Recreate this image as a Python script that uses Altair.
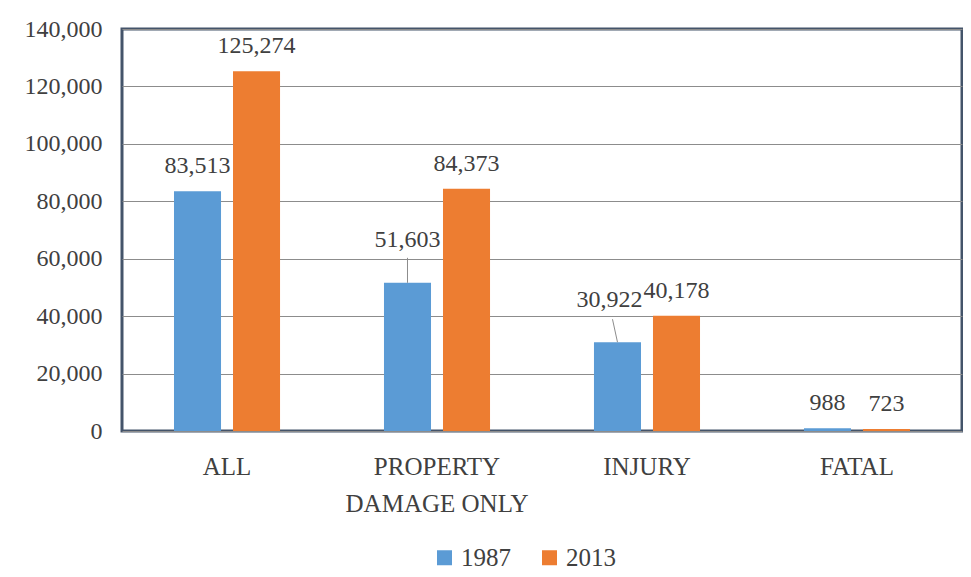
import altair as alt
import pandas as pd

categories = ["ALL", "PROPERTY DAMAGE ONLY", "INJURY", "FATAL"]
years = ["1987", "2013"]
values_1987 = [83513, 51603, 30922, 988]
values_2013 = [125274, 84373, 40178, 723]
y_ticks = [0, 20000, 40000, 60000, 80000, 100000, 120000, 140000]

rows = []
for c, v1, v2 in zip(categories, values_1987, values_2013):
    rows.append({"category": c, "year": years[0], "value": v1})
    rows.append({"category": c, "year": years[1], "value": v2})
df = pd.DataFrame(rows)

FONT = "Liberation Serif"
TEXT = "#404040"
colors = ["#5B9BD5", "#ED7D31"]
LEADER = "#8C8C8C"

x_enc = alt.X(
    "category:N",
    sort=categories,
    scale=alt.Scale(paddingInner=0.495, paddingOuter=0.2476),
    axis=alt.Axis(
        title=None,
        labelExpr="datum.value == 'PROPERTY DAMAGE ONLY' ? ['PROPERTY', 'DAMAGE ONLY'] : datum.label",
        labelFont=FONT,
        labelFontSize=25,
        labelColor=TEXT,
        labelAngle=0,
        labelBaseline="top",
        labelPadding=23,
        labelLineHeight=37,
        labelLimit=400,
        domain=False,
        ticks=False,
    ),
)
xoff_enc = alt.XOffset("year:N", sort=years, scale=alt.Scale(paddingInner=0.203, paddingOuter=0))
y_enc = alt.Y(
    "value:Q",
    scale=alt.Scale(domain=[0, 140000], nice=False),
    axis=alt.Axis(
        values=y_ticks,
        format=",.0f",
        title=None,
        grid=True,
        gridColor="#8C8C8C",
        gridWidth=1,
        domain=False,
        ticks=False,
        labelFont=FONT,
        labelFontSize=24,
        labelColor=TEXT,
        labelPadding=20,
    ),
)

base = alt.Chart(df)

bars = base.mark_bar().encode(
    x=x_enc,
    xOffset=xoff_enc,
    y=y_enc,
    color=alt.Color(
        "year:N",
        sort=years,
        scale=alt.Scale(domain=years, range=colors),
        legend=alt.Legend(
            title=None,
            orient="none",
            legendX=310,
            legendY=516,
            direction="horizontal",
            symbolType="square",
            symbolSize=225,
            symbolStrokeWidth=0,
            labelFont=FONT,
            labelFontSize=25,
            labelColor=TEXT,
            columnPadding=26,
            labelOffset=4,
            padding=0,
        ),
    ),
)

special = "(datum.category == 'PROPERTY DAMAGE ONLY' || datum.category == 'INJURY') && datum.year == '1987'"

labels = base.transform_filter("!(" + special + ")").mark_text(
    font=FONT, fontSize=24, color=TEXT, baseline="alphabetic", dy=-18
).encode(x=x_enc, xOffset=xoff_enc, y=y_enc, text=alt.Text("value:Q", format=",.0f"))

label_pdo = base.transform_filter(
    "datum.category == 'PROPERTY DAMAGE ONLY' && datum.year == '1987'"
).mark_text(font=FONT, fontSize=24, color=TEXT, baseline="alphabetic", dy=-36).encode(
    x=x_enc, xOffset=xoff_enc, y=y_enc, text=alt.Text("value:Q", format=",.0f")
)

label_inj = base.transform_filter(
    "datum.category == 'INJURY' && datum.year == '1987'"
).mark_text(font=FONT, fontSize=24, color=TEXT, baseline="alphabetic", dy=-35, dx=-8).encode(
    x=x_enc, xOffset=xoff_enc, y=y_enc, text=alt.Text("value:Q", format=",.0f")
)

rule_pdo = base.transform_filter(
    "datum.category == 'PROPERTY DAMAGE ONLY' && datum.year == '1987'"
).mark_rule(color=LEADER, strokeWidth=1, y2Offset=-25).encode(
    x=x_enc, xOffset=xoff_enc, y=y_enc, y2=alt.Y2("value:Q")
)

rule_inj = base.transform_filter(
    "datum.category == 'INJURY' && datum.year == '1987'"
).mark_rule(color=LEADER, strokeWidth=1, xOffset=-29.5, x2Offset=-34.5, y2Offset=-23).encode(
    x=x_enc, x2=alt.X2("category:N"), y=y_enc, y2=alt.Y2("value:Q")
)

chart = (
    alt.layer(bars, rule_pdo, rule_inj, labels, label_pdo, label_inj)
    .properties(
        width=840,
        height=402,
        autosize=alt.AutoSizeParams(type="none"),
        padding={"left": 114, "top": 21, "right": 1, "bottom": 146},
        background="white",
    )
    .configure_view(stroke="#44546A", strokeWidth=3)
)

chart.save("out.html", embed_options={"renderer": "svg", "actions": False})
